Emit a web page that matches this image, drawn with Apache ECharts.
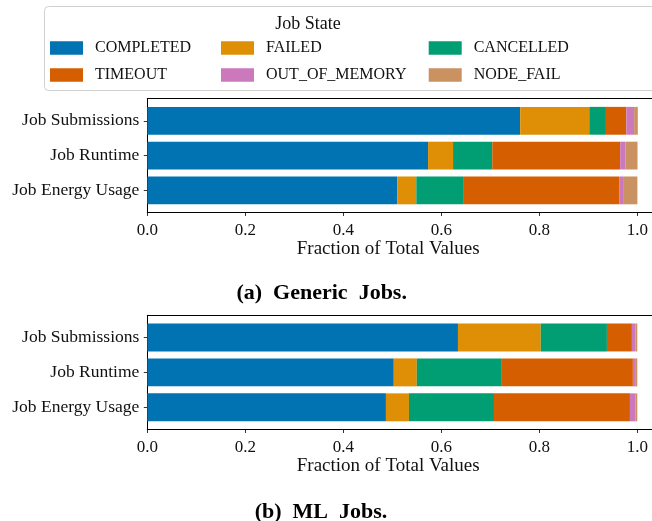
<!DOCTYPE html>
<html>
<head>
<meta charset="utf-8">
<script src="https://cdn.jsdelivr.net/npm/echarts@6/dist/echarts.min.js"></script>
<style>
html,body{margin:0;padding:0;background:#fff;}
#chart{width:652px;height:521px;}
</style>
</head>
<body>
<div id="chart"></div>
<script>
const categories = ['Job Submissions', 'Job Runtime', 'Job Energy Usage'];
const states = ['COMPLETED', 'FAILED', 'CANCELLED', 'TIMEOUT', 'OUT_OF_MEMORY', 'NODE_FAIL'];
const colors = ['#0173b2', '#de8f05', '#029e73', '#d55e00', '#cc78bc', '#ca9161'];
const xTicks = [0, 0.2, 0.4, 0.6, 0.8, 1.0];

// (a) Generic jobs
const genericCompleted = [0.761, 0.573, 0.510];
const genericFailed = [0.141, 0.051, 0.039];
const genericCancelled = [0.034, 0.080, 0.097];
const genericTimeout = [0.0415, 0.261, 0.317];
const genericOOM = [0.016, 0.011, 0.008];
const genericNodeFail = [0.0075, 0.0244, 0.0292];

// (b) ML jobs
const mlCompleted = [0.634, 0.503, 0.487];
const mlFailed = [0.169, 0.047, 0.047];
const mlCancelled = [0.135, 0.172, 0.1735];
const mlTimeout = [0.051, 0.269, 0.2775];
const mlOOM = [0.0075, 0.006, 0.011];
const mlNodeFail = [0.0035, 0.003, 0.004];

const genericSets = [genericCompleted, genericFailed, genericCancelled, genericTimeout, genericOOM, genericNodeFail];
const mlSets = [mlCompleted, mlFailed, mlCancelled, mlTimeout, mlOOM, mlNodeFail];

const FONT = 'Liberation Serif';
const TXT = '#111';
const XMAX = 1.03;

const chart = echarts.init(document.getElementById('chart'), null, {renderer: 'canvas'});

function grid(top, bottom) {
  return {left: 147.3, right: 0, top: top, bottom: bottom, show: false};
}

// grids 0/2: frames, grids 1/3: bars
const grids = [
  grid(98.7, 521 - 212.5),
  grid(103.4, 521 - 207.8),
  grid(315.3, 521 - 429.5),
  grid(320, 521 - 424.8)
];

function frameX(gi) {
  return {
    type: 'value', gridIndex: gi, position: 'bottom', min: 0, max: XMAX,
    axisLine: {show: true, lineStyle: {color: '#000', width: 1}},
    axisTick: {show: true, length: 3.5, customValues: xTicks, lineStyle: {color: '#000', width: 0.8}},
    axisLabel: {show: true, customValues: xTicks, margin: 9.5, fontFamily: FONT, fontSize: 17, color: TXT,
                formatter: v => v.toFixed(1)},
    splitLine: {show: false},
    name: 'Fraction of Total Values', nameLocation: 'middle', nameGap: 25,
    nameTextStyle: {fontFamily: FONT, fontSize: 19, color: TXT, padding: [0, 23, 0, 0]}
  };
}
function topSpine(gi) {
  return {
    type: 'value', gridIndex: gi, position: 'top', min: 0, max: XMAX,
    axisLine: {show: true, lineStyle: {color: '#000', width: 1}},
    axisTick: {show: false}, axisLabel: {show: false}, splitLine: {show: false}
  };
}
function hiddenX(gi) {
  return {type: 'value', gridIndex: gi, min: 0, max: XMAX, show: false, splitLine: {show: false}};
}
function frameY(gi) {
  return {
    type: 'value', gridIndex: gi, position: 'left',
    axisLine: {show: true, lineStyle: {color: '#000', width: 1}},
    axisTick: {show: false}, axisLabel: {show: false}, splitLine: {show: false}
  };
}
function catY(gi) {
  return {
    type: 'category', gridIndex: gi, data: categories, inverse: true,
    axisLine: {show: false},
    axisTick: {show: true, alignWithLabel: true, length: 3.5, lineStyle: {color: '#000', width: 0.8}},
    axisLabel: {margin: 8, fontFamily: FONT, fontSize: 17.5, color: TXT},
    splitLine: {show: false}
  };
}

// xAxis indices: 0 frame-a bottom, 1 frame-a top, 2 bars-a, 3 frame-b bottom, 4 bars-b, 5 frame-b top
const series = [];
states.forEach((s, i) => {
  series.push({name: s, type: 'bar', stack: 'a', xAxisIndex: 2, yAxisIndex: 1,
               data: genericSets[i], barCategoryGap: '20%', itemStyle: {color: colors[i]}});
});
states.forEach((s, i) => {
  series.push({name: s, type: 'bar', stack: 'b', xAxisIndex: 4, yAxisIndex: 3,
               data: mlSets[i], barCategoryGap: '20%', itemStyle: {color: colors[i]}});
});

function legendCol(left, names) {
  return {
    orient: 'vertical', left: left, top: 40, padding: 0, itemGap: 11,
    itemWidth: 33, itemHeight: 13.5, icon: 'rect', selectedMode: false,
    data: names,
    textStyle: {fontFamily: FONT, fontSize: 16, color: TXT, lineHeight: 14, padding: [0, 0, 0, 7]}
  };
}

chart.setOption({
  animation: false,
  backgroundColor: '#fff',
  graphic: [{
    type: 'rect', left: 44, top: 6, z: -1,
    shape: {width: 640, height: 84, r: 4},
    style: {fill: '#fff', stroke: '#d0d0d0', lineWidth: 1}
  }],
  title: [
    {text: 'Job State', left: 308, top: 15, textAlign: 'center', padding: 0,
     textStyle: {fontFamily: FONT, fontSize: 18, fontWeight: 'normal', color: TXT}},
    {text: '(a)  Generic  Jobs.', left: 321.7, top: 282, textAlign: 'center', padding: 0,
     textStyle: {fontFamily: FONT, fontSize: 22, fontWeight: 'bold', color: '#000'}},
    {text: '(b)  ML  Jobs.', left: 321, top: 501, textAlign: 'center', padding: 0,
     textStyle: {fontFamily: FONT, fontSize: 22, fontWeight: 'bold', color: '#000'}}
  ],
  legend: [
    legendCol(50, ['COMPLETED', 'TIMEOUT']),
    legendCol(221, ['FAILED', 'OUT_OF_MEMORY']),
    legendCol(428.7, ['CANCELLED', 'NODE_FAIL'])
  ],
  grid: grids,
  xAxis: [frameX(0), topSpine(0), hiddenX(1), frameX(2), hiddenX(3), topSpine(2)],
  yAxis: [frameY(0), catY(1), frameY(2), catY(3)],
  series: series
});
</script>
</body>
</html>
